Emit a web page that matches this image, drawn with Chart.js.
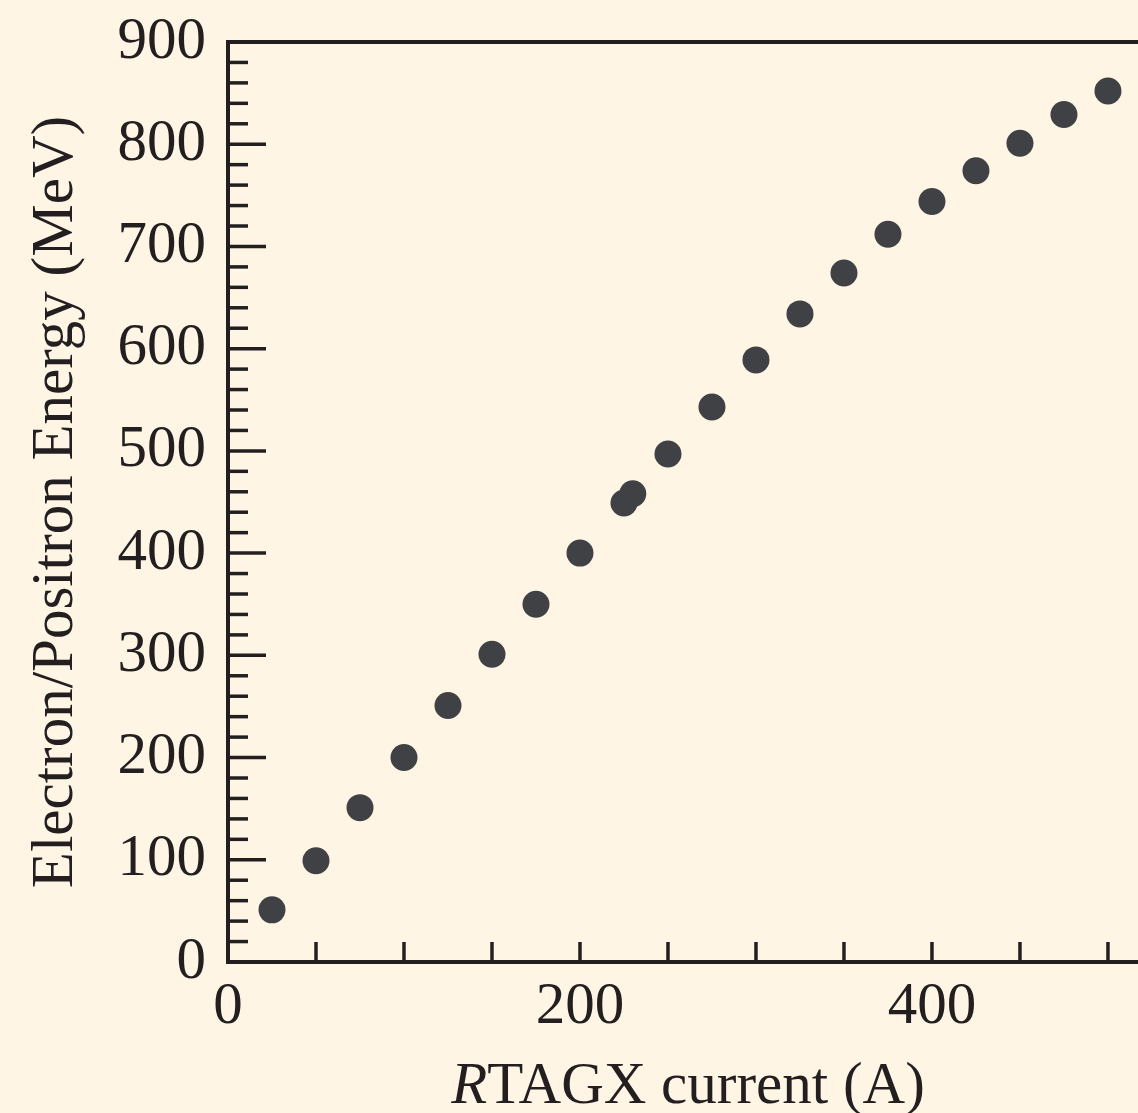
<!DOCTYPE html>
<html>
<head>
<meta charset="utf-8">
<script src="https://cdn.jsdelivr.net/npm/chart.js@4.4.1/dist/chart.umd.min.js"></script>
<style>
    html, body { margin: 0; padding: 0; background: #fef5e5; }
    #wrap { width: 1138px; height: 1113px; position: relative; }
</style>
</head>
<body>
<div id="wrap"><canvas id="myChart"></canvas></div>
<script>
// RTAGX current (A) vs Electron/Positron energy (MeV)
const currents = [25, 50, 75, 100, 125, 150, 175, 200, 225, 230, 250, 275, 300, 325, 350, 375, 400, 425, 450, 475, 500];
const energies = [51, 99, 151, 200, 251, 301, 350, 400, 449, 458, 497, 543, 589, 634, 674, 712, 744, 774, 801, 829, 852];
const xLabels = [0, 200, 400];
const yLabels = [0, 100, 200, 300, 400, 500, 600, 700, 800, 900];

const ink = '#231f20';
const dotColor = '#404144';
const fontFamily = '"Liberation Serif", "DejaVu Serif", serif';

const points = currents.map((c, i) => ({ x: c, y: energies[i] }));

// inward ticks, frame and axis titles
const framePlugin = {
    id: 'frame',
    afterDraw(chart) {
        const ctx = chart.ctx;
        const area = chart.chartArea;
        const xs = chart.scales.x;
        const ys = chart.scales.y;
        ctx.save();
        ctx.strokeStyle = ink;
        ctx.lineWidth = 4;
        ctx.beginPath();
        ctx.moveTo(chart.width, area.top);
        ctx.lineTo(area.left, area.top);
        ctx.lineTo(area.left, area.bottom);
        ctx.lineTo(chart.width, area.bottom);
        ctx.stroke();

        ctx.lineWidth = 3.5;
        ys.ticks.forEach(t => {
            const py = ys.getPixelForValue(t.value);
            const len = yLabels.includes(t.value) ? 38 : 20;
            ctx.beginPath();
            ctx.moveTo(area.left, py);
            ctx.lineTo(area.left + len, py);
            ctx.stroke();
        });
        xs.ticks.forEach(t => {
            if (t.value === 0) return;
            const px = xs.getPixelForValue(t.value);
            ctx.beginPath();
            ctx.moveTo(px, area.bottom);
            ctx.lineTo(px, area.bottom - 20);
            ctx.stroke();
        });

        ctx.fillStyle = ink;
        ctx.textBaseline = 'alphabetic';
        // x title with italic R
        const size = 59;
        const italic = 'italic ' + size + 'px ' + fontFamily;
        const normal = size + 'px ' + fontFamily;
        ctx.font = italic;
        const wR = ctx.measureText('R').width;
        ctx.font = normal;
        const rest = 'TAGX current (A)';
        const wRest = ctx.measureText(rest).width;
        let x0 = 688 - (wR + wRest) / 2;
        ctx.textAlign = 'left';
        ctx.font = italic;
        ctx.fillText('R', x0, 1103);
        ctx.font = normal;
        ctx.fillText(rest, x0 + wR, 1103);

        // y title
        ctx.translate(72, (area.top + area.bottom) / 2);
        ctx.rotate(-Math.PI / 2);
        ctx.textAlign = 'center';
        ctx.fillText('Electron/Positron Energy (MeV)', 0, 0);
        ctx.restore();
    }
};

const ctx = document.getElementById('myChart').getContext('2d');
const myChart = new Chart(ctx, {
    type: 'scatter',
    data: {
        datasets: [{
            data: points,
            backgroundColor: dotColor,
            borderColor: dotColor,
            borderWidth: 0,
            pointRadius: 13.5,
            pointHoverRadius: 13.5
        }]
    },
    options: {
        responsive: true,
        maintainAspectRatio: false,
        animation: false,
        layout: { padding: { top: 42, right: 0, left: 0, bottom: 0 } },
        plugins: {
            legend: { display: false },
            tooltip: { enabled: false }
        },
        scales: {
            x: {
                type: 'linear',
                min: 0,
                max: 509.4,
                border: { display: false },
                grid: { display: false, drawTicks: false },
                afterFit(scale) { scale.height = 151; },
                afterBuildTicks(scale) {
                    const t = [];
                    for (let v = 0; v <= 500; v += 50) t.push({ value: v });
                    scale.ticks = t;
                },
                ticks: {
                    color: ink,
                    padding: 10,
                    maxRotation: 0,
                    autoSkip: false,
                    font: { family: fontFamily, size: 59 },
                    callback: v => xLabels.includes(v) ? String(v) : ''
                }
            },
            y: {
                type: 'linear',
                min: 0,
                max: 900,
                border: { display: false },
                grid: { display: false, drawTicks: false },
                afterFit(scale) { scale.width = 228; },
                afterBuildTicks(scale) {
                    const t = [];
                    for (let v = 0; v <= 900; v += 20) t.push({ value: v });
                    scale.ticks = t;
                },
                ticks: {
                    color: ink,
                    padding: 22,
                    autoSkip: false,
                    font: { family: fontFamily, size: 59, lineHeight: 0.6 },
                    callback: v => yLabels.includes(v) ? String(v) : ''
                }
            }
        }
    },
    plugins: [framePlugin]
});
</script>
</body>
</html>
